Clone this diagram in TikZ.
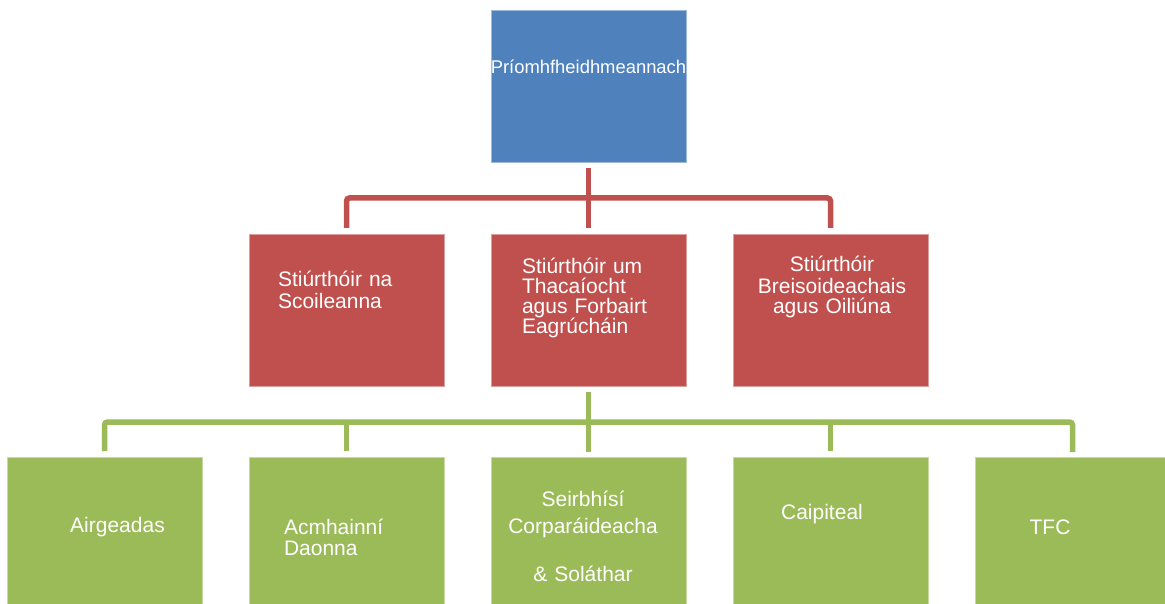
\documentclass[tikz,border=0pt]{standalone}
\usepackage{fontspec}
\setmainfont{Liberation Sans}
\definecolor{ceoblue}{HTML}{4F81BD}
\definecolor{dirred}{HTML}{C0504D}
\definecolor{unitgreen}{HTML}{9BBB59}
\begin{document}
\begin{tikzpicture}[x=1pt,y=-1pt,
  orgbox/.style={fill=#1, draw=#1!55!white, line width=0.6pt,
    minimum width=195pt, minimum height=152pt, inner sep=0pt, outer sep=0pt},
  txt/.style={text=white, inner sep=0pt, outer sep=0pt,
    font=\fontsize{21}{21}\selectfont},
  redline/.style={draw=dirred, line width=5.5pt, shorten <=6pt, shorten >=6pt},
  greenline/.style={draw=unitgreen, line width=5.5pt, shorten <=6pt, shorten >=5pt}]
\useasboundingbox (0,0) rectangle (1165,604);
% boxes
\node[orgbox=ceoblue] (ceo) at (588.5,86) {};
\node[orgbox=dirred] (d1) at (346.5,310) {};
\node[orgbox=dirred] (d2) at (588.5,310) {};
\node[orgbox=dirred] (d3) at (830.5,310) {};
\node[orgbox=unitgreen] (u1) at (104.5,533) {};
\node[orgbox=unitgreen] (u2) at (346.5,533) {};
\node[orgbox=unitgreen] (u3) at (588.5,533) {};
\node[orgbox=unitgreen] (u4) at (830.5,533) {};
\node[orgbox=unitgreen] (u5) at (1072.5,533) {};
% connectors
\coordinate (rbus) at (588.5,198);
\coordinate (gbus) at (588.5,422);
\draw[redline] (ceo.south) -- (d2.north);
\draw[redline, rounded corners=3pt] (d1.north) |- (rbus) -| (d3.north);
\draw[greenline] (d2.south) -- (u3.north);
\draw[greenline, rounded corners=3pt] (u1.north) |- (gbus) -| (u5.north);
\draw[greenline, shorten >=0pt] (u2.north) -- (u2.north |- gbus);
\draw[greenline, shorten >=0pt] (u4.north) -- (u4.north |- gbus);
% texts
\node[txt, anchor=base, text width=200pt, align=center,
  font=\fontsize{18.4}{20}\selectfont] (ceot) at (588.5,74) {Príomhfheidhmeannach};
\node[txt, anchor=base west, text width=165pt, align=left,
  font=\fontsize{21}{22}\selectfont] (d1t) at (278,287) {Stiúrthóir na\\Scoileanna};
\node[txt, anchor=base west, text width=165pt, align=left,
  font=\fontsize{21}{20}\selectfont] (d2t) at (522,273) {Stiúrthóir um\\Thacaíocht\\agus Forbairt\\Eagrúcháin};
\node[txt, anchor=base, text width=190pt, align=center,
  font=\fontsize{21}{21}\selectfont] (d3t) at (832,272) {Stiúrthóir\\Breisoideachais\\agus Oiliúna};
\node[txt, anchor=base, text width=190pt, align=center] (u1t) at (117.5,532) {Airgeadas};
\node[txt, anchor=base west, text width=165pt, align=left,
  font=\fontsize{21}{21}\selectfont] (u2t) at (284,534) {Acmhainní\\Daonna};
\node[txt, anchor=base, text width=190pt, align=center,
  font=\fontsize{21}{22}\selectfont] (u3t) at (583,506) {Seirbhísí\\[5pt]Corparáideacha\\[26pt]\& Soláthar};
\node[txt, anchor=base, text width=190pt, align=center] (u4t) at (822,519) {Caipiteal};
\node[txt, anchor=base, text width=190pt, align=center] (u5t) at (1050,534) {TFC};
\end{tikzpicture}
\end{document}
